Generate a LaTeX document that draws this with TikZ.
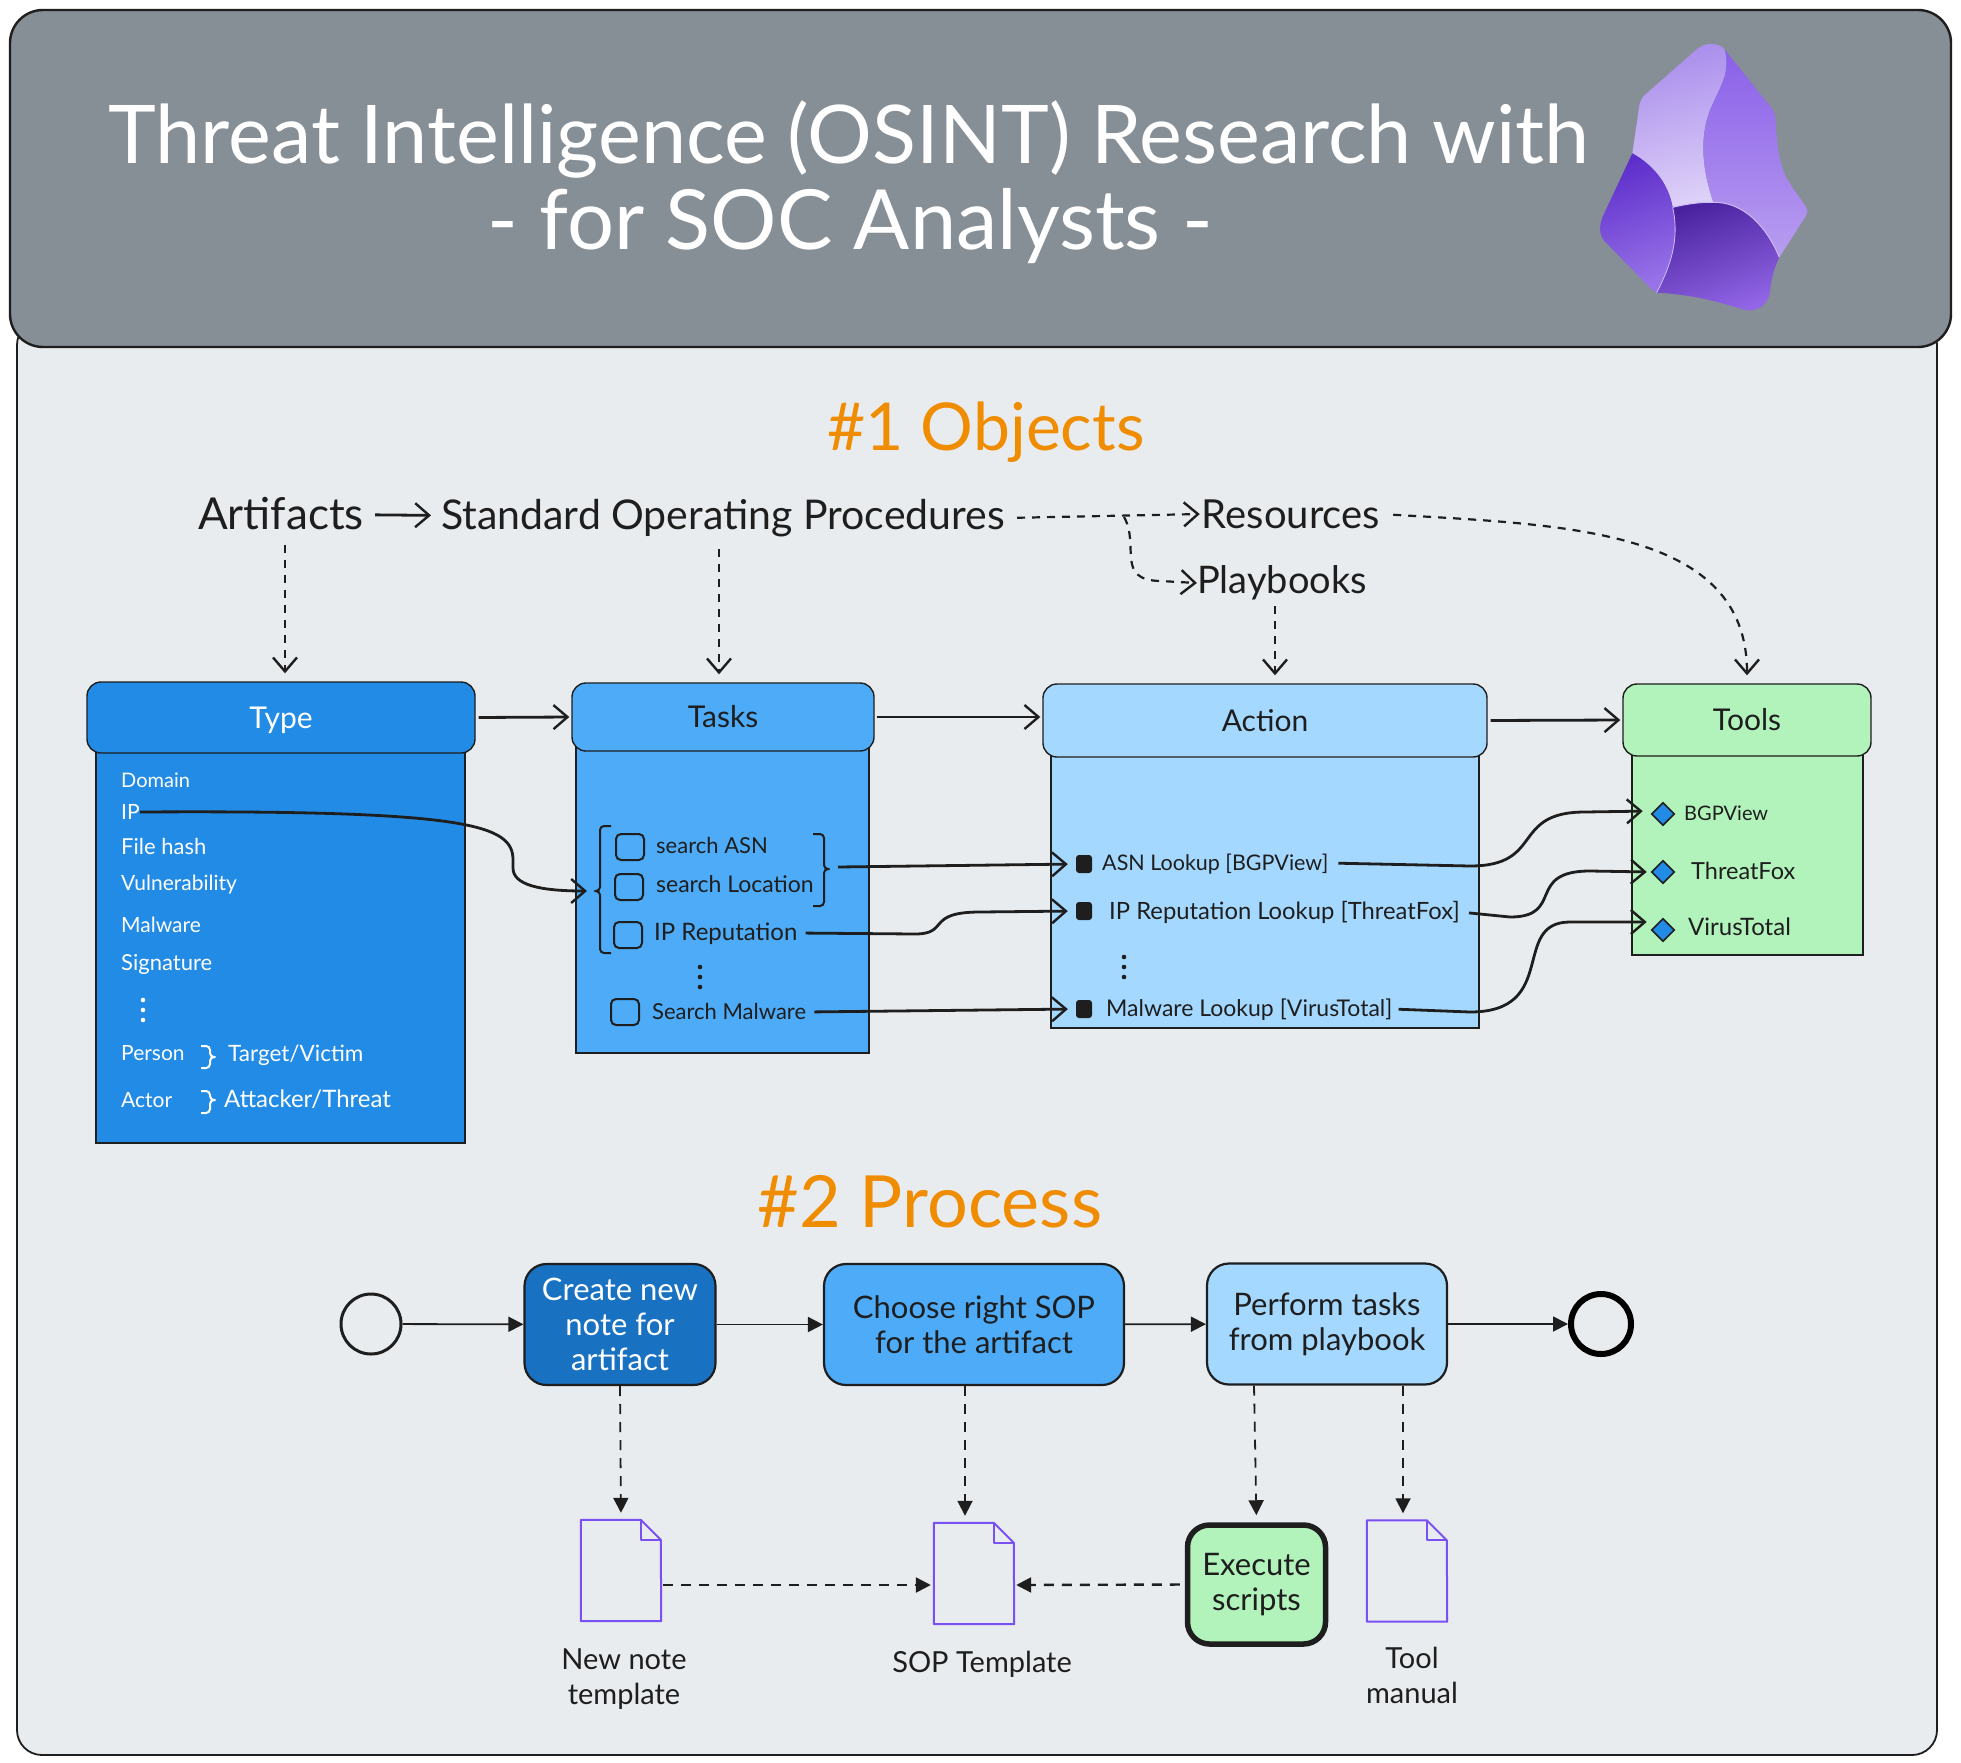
\documentclass[tikz,border=0pt]{standalone}
\usepackage{fontspec}
\setmainfont{Lato}
\usetikzlibrary{arrows.meta,shapes.geometric}
\newcommand{\fz}[1]{\fontsize{#1}{#1}\selectfont}
\definecolor{ink}{HTML}{1E1E1E}
\definecolor{barGray}{HTML}{868E96}
\definecolor{sheetGray}{HTML}{E9ECEF}
\definecolor{typeBlue}{HTML}{228BE6}
\definecolor{taskBlue}{HTML}{4DABF7}
\definecolor{actBlue}{HTML}{A5D8FF}
\definecolor{toolGreen}{HTML}{B2F2BB}
\definecolor{createBlue}{HTML}{1971C2}
\definecolor{docViolet}{HTML}{7950F2}
\definecolor{headOrange}{HTML}{F08C00}
\definecolor{logoTopA}{HTML}{A98CEC}
\definecolor{logoBotA}{HTML}{DDD0F8}
\definecolor{logoTopB}{HTML}{8A60E9}
\definecolor{logoBotB}{HTML}{B89DF0}
\definecolor{logoTopC}{HTML}{4A22A0}
\definecolor{logoBotC}{HTML}{9266E6}
\definecolor{logoTopD}{HTML}{5E2ECB}
\definecolor{logoBotD}{HTML}{9873E8}
\definecolor{logoEdge}{HTML}{CDBCF5}
\tikzset{
	head/.style={draw=ink,line width=1.4pt,rounded corners=14pt,inner sep=0pt,text=ink,text height=21pt,text depth=0pt,font=\fz{30}},
	bodybox/.style={draw=ink,line width=1.4pt},
	item/.style={anchor=west,inner sep=0pt,text=ink,text height=15pt,text depth=0pt,font=\fz{23}},
	typeitem/.style={item,text=white,font=\fz{21}},
	toplabel/.style={inner sep=0pt,text=ink,font=\fz{40}},
	section/.style={inner sep=0pt,text=headOrange,font=\fz{72}},
	checkbox/.style={draw=ink,line width=2pt,rounded corners=5pt,minimum width=28pt,minimum height=26pt,inner sep=0pt},
	bullet/.style={fill=ink,rounded corners=3pt,minimum width=16pt,minimum height=18pt,inner sep=0pt},
	toolmark/.style={diamond,draw=ink,line width=1.6pt,fill=typeBlue,minimum width=23pt,minimum height=23pt,inner sep=0pt},
	wire/.style={ink,line width=2.8pt,-{Straight Barb[length=14pt,width=24pt,line width=2.4pt]}},
	dashwire/.style={wire,line width=2.2pt,dash pattern=on 8pt off 7pt},
	flow/.style={ink,line width=1.8pt,-{Triangle[length=15pt,width=15pt]}},
	dashflow/.style={flow,dash pattern=on 10pt off 8pt,shorten >=7pt},
	stepbox/.style={draw=ink,line width=2.2pt,rounded corners=22pt,inner sep=0pt,align=center,text=ink,font=\fontsize{31}{35}\selectfont,minimum height=121pt},
	docnode/.style={minimum width=80pt,minimum height=101pt,inner sep=0pt},
	docline/.style={docViolet,line width=2pt,line join=round},
	doclabel/.style={inner sep=0pt,align=center,text=ink,font=\fontsize{29}{35}\selectfont},
	brace/.style={ink,line width=2pt,rounded corners=4pt},
}
\newcommand{\docicon}[3]{
	\node[docnode] (#1) at (#2,#3) {};
	\draw[docline] (#1.north west) -- ++(60,0) -- ++(20,20) -- (#1.south east) -- (#1.south west) -- cycle;
	\draw[docline] ([xshift=60pt]#1.north west) -- ++(0,20) -- ++(20,0);
}
\newcommand{\dotcolumn}[3]{
	\foreach \dy in {-10,0,10}
		\fill[#3] (#1,{#2+\dy}) circle (2.3);
}
\begin{document}
\begin{tikzpicture}[x=1pt,y=-1pt]
	\useasboundingbox (0,0) rectangle (1961,1763);
	\fill[white] (0,0) rectangle (1961,1763);
	\draw[fill=sheetGray,draw=ink,line width=1.8pt,rounded corners=25pt] (17,320) rectangle (1937,1755);
	\draw[fill=barGray,draw=ink,line width=2.4pt,rounded corners=33pt] (10,10) rectangle (1951,347);
	\node[inner sep=0pt,text=white,font=\fz{81}] (titleone) at (849,139) {Threat Intelligence (OSINT) Research with};
	\node[inner sep=0pt,text=white,font=\fz{83}] (titletwo) at (850,226) {- for SOC Analysts -};
	\begin{scope}[shift={(1540,0)},scale=1/3]
		\path[shade,top color=logoTopA,bottom color=logoBotA,shading angle=15] (555,150) .. controls (540,130) and (500,122) .. (470,148) -- (320,280) .. controls (305,292) and (298,305) .. (296,330) -- (277,460) .. controls (340,495) and (385,550) .. (398,622) .. controls (440,612) and (480,606) .. (520,607) .. controls (490,520) and (475,420) .. (510,330) .. controls (545,250) and (570,220) .. (555,150) -- cycle;
		\path[shade,top color=logoTopB,bottom color=logoBotB] (555,150) -- (695,325) .. controls (705,340) and (707,350) .. (707,370) .. controls (712,430) and (715,480) .. (735,525) .. controls (755,565) and (790,605) .. (800,625) .. controls (805,635) and (800,645) .. (795,652) -- (718,772) .. controls (680,680) and (610,605) .. (520,607) .. controls (490,520) and (475,420) .. (510,330) .. controls (545,250) and (570,220) .. (555,150) -- cycle;
		\path[shade,top color=logoTopC,bottom color=logoBotC,shading angle=20] (398,622) .. controls (440,612) and (480,606) .. (520,607) .. controls (610,605) and (680,680) .. (718,772) .. controls (700,810) and (693,840) .. (690,875) .. controls (685,915) and (650,940) .. (610,928) .. controls (560,915) and (480,885) .. (350,878) .. controls (390,800) and (420,720) .. (398,622) -- cycle;
		\path[shade,top color=logoTopD,bottom color=logoBotD,shading angle=20] (277,460) .. controls (340,495) and (385,550) .. (398,622) .. controls (420,720) and (390,800) .. (350,878) -- (335,868) -- (200,730) .. controls (178,710) and (175,685) .. (188,650) -- cycle;
		\draw[logoEdge,line width=1pt] (398,622) .. controls (440,612) and (480,606) .. (520,607) .. controls (610,605) and (680,680) .. (718,772);
		\draw[logoEdge,line width=.8pt] (398,622) .. controls (420,720) and (390,800) .. (350,878);
	\end{scope}

	\node[section,font=\fz{66}] (objects) at (986,432) {\#1 Objects};
	\node[toplabel,font=\fz{44}] (artl) at (281,514) {Artifacts};
	\node[toplabel,font=\fz{41}] (sopl) at (723,518) {Standard Operating Procedures};
	\node[toplabel] (resl) at (1291,514) {Resources};
	\node[toplabel,font=\fz{38}] (playl) at (1282,583) {Playbooks};
	\coordinate (forkpt) at (1124,517);

	\draw[bodybox,fill=typeBlue] (96,745) rectangle (465,1143);
	\draw[bodybox,fill=taskBlue] (576,745) rectangle (869,1053);
	\draw[bodybox,fill=actBlue] (1051,750) rectangle (1479,1028);
	\draw[bodybox,fill=toolGreen] (1632,750) rectangle (1863,955);
	\node[head,fill=typeBlue,text=white,minimum width=388pt,minimum height=71pt] (typehead) at (281,717.5) {Type};
	\node[head,fill=taskBlue,minimum width=302pt,minimum height=68pt] (taskshead) at (723,717) {Tasks};
	\node[head,fill=actBlue,minimum width=444pt,minimum height=73pt] (actionhead) at (1265,720.5) {Action};
	\node[head,fill=toolGreen,minimum width=248pt,minimum height=72pt] (toolshead) at (1747,720) {Tools};

	\node[typeitem,font=\fz{20}] (domainl) at (121,780) {Domain};
	\node[typeitem] (ipl) at (121,812) {IP};
	\node[typeitem,font=\fz{22}] (hashl) at (121,847) {File hash};
	\node[typeitem] (vulnl) at (121,883) {Vulnerability};
	\node[typeitem] (malwl) at (121,925) {Malware};
	\node[typeitem,font=\fz{22}] (sigl) at (121,963) {Signature};
	\dotcolumn{143}{1010}{white}
	\node[typeitem] (personl) at (121,1053) {Person};
	\node[typeitem,font=\fz{22.5}] (targetl) at (228,1054) {Target/Victim};
	\node[typeitem] (actorl) at (121,1100) {Actor};
	\node[typeitem,font=\fz{24}] (attackl) at (224,1100) {Attacker/Threat};
	\draw[brace,white] (201,1046) -- (210,1046) -- (210,1057) -- (218,1057) -- (210,1057) -- (210,1068) -- (201,1068);
	\draw[brace,white] (201,1091) -- (210,1091) -- (210,1100) -- (218,1100) -- (210,1100) -- (210,1113) -- (201,1113);

	\node[checkbox] (boxa) at (630,847) {};
	\node[checkbox] (boxb) at (629,887) {};
	\node[checkbox] (boxc) at (628,935) {};
	\node[checkbox] (boxd) at (625,1012) {};
	\node[item,font=\fz{22}] (asnl) at (656,846) {search ASN};
	\node[item] (locl) at (656,885) {search Location};
	\node[item,font=\fz{24}] (repl) at (654,933) {IP Reputation};
	\node[item,font=\fz{22}] (searchl) at (652,1012) {Search Malware};
	\dotcolumn{700}{977}{ink}
	\draw[brace] (611,826) -- (600,826) -- (600,891) -- (592,891) -- (600,891) -- (600,953) -- (611,953);
	\draw[brace] (813,834) -- (824,834) -- (824,869) -- (832,869) -- (824,869) -- (824,906) -- (813,906);
	\coordinate (braceleft) at (587,891);
	\coordinate (braceright) at (838,867);

	\node[bullet] (bula) at (1084,864) {};
	\node[bullet] (bulb) at (1084,911) {};
	\node[bullet] (bulc) at (1084,1009) {};
	\node[item,font=\fz{21.5}] (lookupa) at (1102,863) {ASN Lookup [BGPView]};
	\node[item,font=\fz{23.8}] (lookupb) at (1109,912) {IP Reputation Lookup [ThreatFox]};
	\node[item] (lookupc) at (1106,1009) {Malware Lookup [VirusTotal]};
	\dotcolumn{1124}{967}{ink}

	\node[toolmark] (marka) at (1663,814) {};
	\node[toolmark] (markb) at (1663,872) {};
	\node[toolmark] (markc) at (1663,930) {};
	\node[item,font=\fz{20}] (bgpl) at (1684,813) {BGPView};
	\node[item,font=\fz{23.5}] (foxl) at (1691,872) {ThreatFox};
	\node[item,font=\fz{24}] (virusl) at (1688,928) {VirusTotal};

	\draw[wire,shorten <=11pt,shorten >=10pt] (artl) -- (sopl);
	\draw[dashwire,shorten <=12pt,shorten >=2pt] (sopl.east) -- (resl.west);
	\draw[dashwire] (forkpt) .. controls (1140,545) and (1115,580) .. (1160,581) -- (playl.west);
	\draw[dashwire,shorten <=13pt,shorten >=8pt] (resl.east) .. controls (1570,525) and (1747,530) .. (toolshead.north);
	\draw[dashwire,shorten <=14pt,shorten >=8pt] ([xshift=4pt]artl.south) -- ([xshift=4pt]typehead.north);
	\draw[dashwire,shorten <=12pt,shorten >=8pt] ([xshift=-4pt]sopl.south) -- ([xshift=-4pt]taskshead.north);
	\draw[dashwire,shorten <=6pt,shorten >=8pt] ([xshift=-7pt]playl.south) -- ([xshift=10pt]actionhead.north);

	\draw[wire,shorten <=3pt,shorten >=2pt] (typehead.east) -- (taskshead.west);
	\draw[wire,shorten <=2pt,shorten >=2pt] (taskshead.east) -- ([yshift=3.5pt]actionhead.west);
	\draw[wire,shorten <=3pt,shorten >=2pt] (actionhead.east) -- (toolshead.west);
	\draw[wire] (ipl.east) .. controls (470,810) and (513,825) .. (513,860) -- (513,868) .. controls (513,885) and (540,891) .. (braceleft);
	\draw[wire,shorten >=8pt] (braceright) -- (bula.west);
	\draw[wire,shorten <=8pt,shorten >=8pt] (repl.east) -- (915,934) .. controls (950,934) and (925,912) .. (980,912) -- (bulb.west);
	\draw[wire,shorten <=8pt,shorten >=8pt] (searchl.east) -- (bulc.west);
	\draw[wire,shorten <=10pt,shorten >=8pt] (lookupa.east) -- (1470,866) .. controls (1545,866) and (1510,812) .. (1585,812) -- ([yshift=3pt]marka.west);
	\draw[wire,shorten <=9pt,shorten >=4pt] (lookupb.east) -- (1510,917) .. controls (1565,917) and (1525,871) .. (1590,871) -- (markb.west);
	\draw[wire,shorten <=6pt,shorten >=4pt] (lookupc.east) -- (1470,1012) .. controls (1560,1012) and (1510,922) .. (1570,922) -- ([yshift=8pt]markc.west);

	\node[section] (process) at (930,1202) {\#2 Process};
	\node[circle,draw=ink,line width=3pt,minimum size=60pt,inner sep=0pt] (startpt) at (371,1324) {};
	\node[stepbox,fill=createBlue,text=white,minimum width=191pt] (createbox) at (620,1324.5) {Create new\\note for\\artifact};
	\node[stepbox,fill=taskBlue,minimum width=300pt] (choosebox) at (974,1324.5) {Choose right SOP\\for the artifact};
	\node[stepbox,fill=actBlue,minimum width=240pt] (performbox) at (1327,1324) {Perform tasks\\from playbook};
	\node[circle,draw=black,line width=6pt,minimum size=60pt,inner sep=0pt] (endpt) at (1601,1324) {};
	\node[stepbox,fill=toolGreen,line width=5.5pt,minimum width=138pt,minimum height=119pt] (execbox) at (1256.5,1584.5) {Execute\\scripts};
	\docicon{newnote}{621}{1570.5}
	\docicon{sopnote}{974}{1573.5}
	\docicon{toolnote}{1407}{1571}
	\node[doclabel] (newnotel) at (624,1679) {New note\\template};
	\node[doclabel] (sopnotel) at (982,1664) {SOP Template};
	\node[doclabel] (toolnotel) at (1412,1675) {Tool\\manual};

	\draw[flow] (startpt) -- (createbox);
	\draw[flow] (createbox) -- (choosebox);
	\draw[flow] (choosebox) -- (performbox);
	\draw[flow] (performbox) -- (endpt);
	\draw[dashflow] (createbox.south) -- (newnote.north);
	\draw[dashflow] ([xshift=-9pt]choosebox.south) -- ([xshift=-9pt]sopnote.north);
	\draw[dashflow] ([xshift=-73pt]performbox.south) -- (execbox.north);
	\draw[dashflow] ([xshift=76pt]performbox.south) -- ([xshift=-4pt]toolnote.north);
	\draw[dashflow,line width=2.4pt,shorten <=2pt,shorten >=3pt] ([yshift=-14.5pt]newnote.east) -- ([yshift=-11.5pt]sopnote.west);
	\draw[dashflow,line width=2.4pt,shorten <=5pt,shorten >=2pt] (execbox.west) -- ([yshift=-11.5pt]sopnote.east);
\end{tikzpicture}
\end{document}
